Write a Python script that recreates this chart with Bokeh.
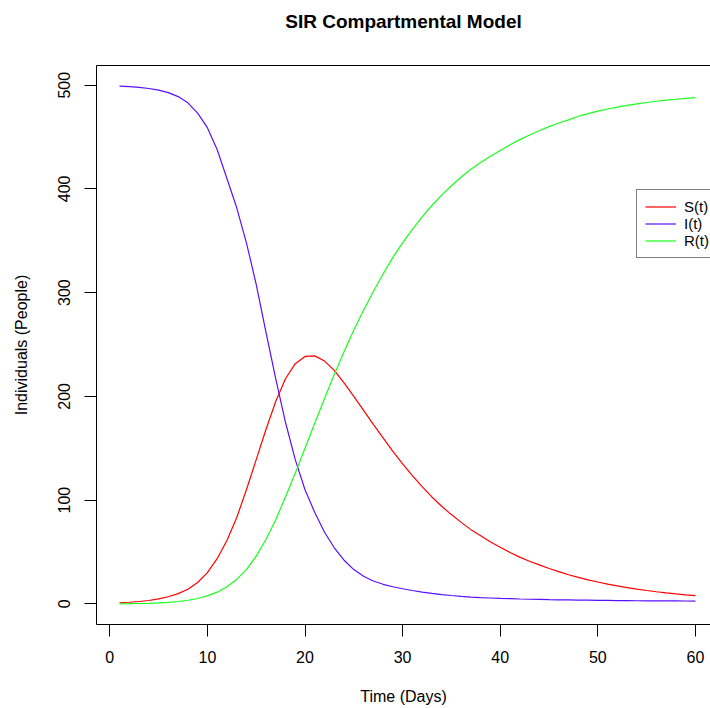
from bokeh.plotting import figure
from bokeh.models import Range1d, LinearAxis, FixedTicker, Legend, LegendItem, Title
from bokeh.embed import file_html
from bokeh.resources import INLINE

# ---- data ----
days = list(range(1, 61))

s_values = [1.0, 1.5, 2.2, 3.2, 4.7, 6.8, 9.8, 14.0, 20.5, 30.0,
            43.5, 61.0, 83.0, 110.0, 139.0, 168.0, 195.0, 217.0, 231.5, 238.5,
            239.0, 234.0, 225.0, 213.0, 200.0, 186.5, 173.0, 160.0, 147.0, 135.0,
            123.5, 113.0, 103.0, 94.0, 86.0, 78.5, 71.5, 65.5, 59.5, 54.5,
            49.5, 45.0, 41.0, 37.5, 34.0, 31.0, 28.0, 25.5, 23.0, 21.0,
            19.0, 17.2, 15.6, 14.1, 12.8, 11.6, 10.5, 9.5, 8.6, 7.8]

i_values = [499.0, 498.5, 497.8, 496.8, 495.2, 492.8, 489.0, 483.0, 473.0, 459.0,
            438.0, 410.0, 382.0, 348.0, 308.0, 262.0, 217.0, 175.0, 139.0, 110.0,
            88.0, 69.0, 54.0, 42.0, 33.0, 26.5, 22.0, 18.8, 16.4, 14.5,
            12.8, 11.3, 10.0, 8.9, 8.0, 7.2, 6.5, 6.0, 5.6, 5.2,
            4.9, 4.6, 4.4, 4.2, 4.0, 3.85, 3.7, 3.55, 3.45, 3.35,
            3.25, 3.15, 3.05, 2.95, 2.9, 2.85, 2.8, 2.75, 2.7, 2.65]

r_values = [0.0, 0.1, 0.3, 0.5, 0.9, 1.4, 2.2, 3.4, 5.1, 7.6,
            11.2, 16.4, 23.5, 33.0, 46.0, 62.0, 81.0, 103.0, 126.0, 150.0,
            174.0, 198.0, 221.0, 243.0, 264.0, 283.0, 301.0, 318.0, 334.0, 348.0,
            361.0, 373.0, 384.0, 394.0, 403.0, 411.5, 419.0, 425.5, 431.5, 437.0,
            442.5, 447.5, 452.0, 456.0, 460.0, 463.5, 466.5, 470.0, 472.5, 475.0,
            477.0, 478.8, 480.5, 482.0, 483.3, 484.5, 485.5, 486.4, 487.2, 488.0]

series_names = ["S(t)", "I(t)", "R(t)"]
series_colors = ["#ff0000", "#5a10ff", "#1aff1a"]

x_ticks = [0, 10, 20, 30, 40, 50, 60]
y_ticks = [0, 100, 200, 300, 400, 500]

FONT = "Liberation Sans"

p = figure(width=710, height=708, output_backend="svg", toolbar_location=None,
           x_range=Range1d(-1.36, 61.54), y_range=Range1d(-19.96, 518.96),
           min_border_left=96, min_border_right=0, min_border_top=65,
           min_border_bottom=84, tools="")

p.outline_line_color = None
p.grid.visible = False
p.background_fill_color = "white"
p.border_fill_color = "white"

for ax, ticks in ((p.xaxis[0], x_ticks), (p.yaxis[0], y_ticks)):
    ax.ticker = FixedTicker(ticks=ticks)
    ax.minor_tick_line_color = None
    ax.major_tick_in = 0
    ax.major_tick_out = 12
    ax.axis_line_color = "black"
    ax.major_tick_line_color = "black"
    ax.major_label_text_font = FONT
    ax.major_label_text_font_size = "16px"
    ax.major_label_text_color = "black"
    ax.axis_label_text_font = FONT
    ax.axis_label_text_font_size = "16px"
    ax.axis_label_text_font_style = "normal"
    ax.axis_label_text_color = "black"

p.xaxis.axis_label = "Time (Days)"
p.yaxis.axis_label = "Individuals (People)"
p.xaxis.major_label_standoff = 14
p.xaxis.axis_label_standoff = 22
p.yaxis.major_label_standoff = 14
p.yaxis.axis_label_standoff = 26
p.yaxis.major_label_orientation = "vertical"

# top border of the plot box
top_axis = LinearAxis(ticker=FixedTicker(ticks=[]), major_tick_out=0, major_tick_in=0,
                      minor_tick_out=0, minor_tick_in=0,
                      major_label_text_font_size="0px", axis_line_color="black")
p.add_layout(top_axis, "above")

# empty spacer between the box and the title
spacer = Title(text=" ", text_font=FONT, text_font_size="19px", standoff=2)
p.add_layout(spacer, "above")

# title
p.title.text = "SIR Compartmental Model"
p.title.text_font = FONT
p.title.text_font_size = "19px"
p.title.text_font_style = "bold"
p.title.text_color = "black"
p.title.align = "center"
p.title.offset = 4
p.title.standoff = 17

renderers = []
for name, vals, col in zip(series_names, (s_values, i_values, r_values), series_colors):
    r = p.line(days, vals, line_color=col, line_width=1.2)
    renderers.append(r)

legend = Legend(items=[LegendItem(label=n, renderers=[r]) for n, r in zip(series_names, renderers)],
                location=(540, 366))
legend.label_text_font = FONT
legend.label_text_font_size = "15px"
legend.label_text_color = "black"
legend.glyph_width = 31
legend.glyph_height = 17
legend.label_height = 17
legend.label_width = 40
legend.label_standoff = 8
legend.spacing = 0
legend.padding = 8
legend.margin = 0
legend.border_line_color = "black"
legend.border_line_width = 1
legend.background_fill_color = "white"
legend.background_fill_alpha = 1
p.add_layout(legend, "center")

open("out.html", "w").write(file_html(p, INLINE))
